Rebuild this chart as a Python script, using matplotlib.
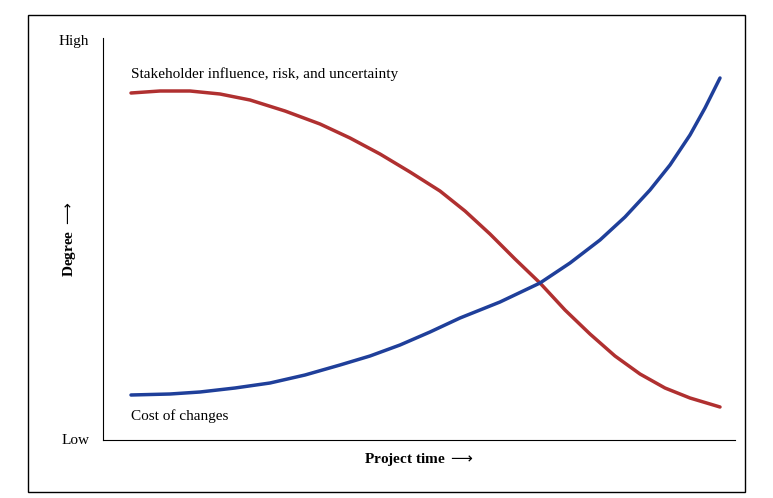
import matplotlib.pyplot as plt
from matplotlib.patches import Rectangle

# project time (arbitrary units) and degree values
time_pts = [131, 160, 190, 220, 250, 285, 320, 350, 380, 410, 440, 465, 490,
            515, 540, 565, 590, 615, 640, 665, 690, 720]
influence = [347, 349, 349, 346, 340, 329, 316, 302, 286, 268, 249, 229, 206,
             181, 157, 130, 106, 84, 66, 52, 42, 33]
cost_time = [131, 170, 200, 235, 270, 305, 340, 370, 400, 430, 460, 500, 540,
             570, 600, 625, 650, 670, 690, 705, 720]
cost = [45, 46, 48, 52, 57, 65, 75, 84, 95, 108, 122, 138, 157, 177, 200,
        223, 250, 275, 305, 332, 362]

plt.rcParams['font.family'] = 'Liberation Serif'
fig = plt.figure(figsize=(7.73, 4.98), dpi=100)
fig.patches.append(Rectangle((28 / 773, 6 / 498), 717 / 773, 477 / 498,
                             transform=fig.transFigure, fill=False,
                             edgecolor='black', linewidth=1))

ax = fig.add_axes([103 / 773, 58 / 498, 632 / 773, 402 / 498])
ax.plot(time_pts, influence, color='#b03030', linewidth=2.5, solid_capstyle='round')
ax.plot(cost_time, cost, color='#1f3f9a', linewidth=2.5, solid_capstyle='round')
ax.set_xlim(103, 735)
ax.set_ylim(0, 402)
ax.spines['top'].set_visible(False)
ax.spines['right'].set_visible(False)
ax.set_xticks([])
ax.set_yticks([])

trans = ax.get_yaxis_transform()
ax.text(-0.022, 398, 'High', ha='right', va='center', fontsize=11, transform=trans)
ax.text(-0.022, 0, 'Low', ha='right', va='center', fontsize=11, transform=trans)
ax.text(131, 362, 'Stakeholder influence, risk, and uncertainty', fontsize=11)
ax.text(131, 20, 'Cost of changes', fontsize=11)
ax.set_xlabel('Project time $\\longrightarrow$', fontsize=11, fontweight='bold', labelpad=8)
ax.set_ylabel('Degree $\\longrightarrow$', fontsize=11, fontweight='bold', labelpad=18)

fig.savefig('out.png', dpi=100)
